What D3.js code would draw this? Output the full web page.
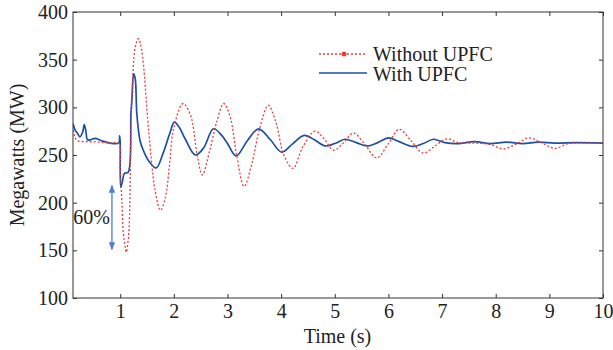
<!DOCTYPE html>
<html>
<head>
<meta charset="utf-8">
<script src="https://cdn.jsdelivr.net/npm/d3@7"></script>
<style>
  body { margin: 0; background: #fff; }
  #chart-container { width: 613px; height: 350px; }
  text { font-family: "Liberation Serif", "Times New Roman", serif; fill: #222; }
</style>
</head>
<body>
<div id="chart-container"></div>
<script>
// Time samples (s) and power (MW)
const timeWithout = [0.12, 0.16, 0.2, 0.4, 0.6, 0.8, 0.97, 1.0, 1.03, 1.06, 1.09, 1.11, 1.155, 1.2, 1.22, 1.28, 1.34, 1.40, 1.53, 1.65, 1.75, 1.84, 1.92, 1.99, 2.17, 2.31, 2.43, 2.53, 2.67, 2.8, 2.93, 3.05, 3.17, 3.31, 3.45, 3.6, 3.76, 3.9, 4.05, 4.22, 4.4, 4.63, 4.8, 4.98, 5.15, 5.35, 5.55, 5.78, 6.0, 6.2, 6.42, 6.65, 6.88, 7.09, 7.3, 7.6, 7.9, 8.14, 8.4, 8.61, 8.85, 9.1, 9.35, 9.6, 10];
const mwWithout = [276, 268, 265, 264, 263.5, 262.5, 262, 236, 202, 167, 155, 148, 164, 276, 310, 363, 372, 360, 276, 213, 192, 205, 240, 276, 304, 292, 252, 229, 255, 285, 304, 290, 250, 217, 240, 278, 302, 285, 250, 236, 258, 275, 267, 255, 262, 273, 262, 247, 262, 277, 265, 252, 260, 267, 263, 262.5, 261, 256.5, 262, 268, 263, 257, 262, 262.5, 262.5];

const timeWith = [0.12, 0.16, 0.2, 0.25, 0.3, 0.33, 0.36, 0.39, 0.45, 0.53, 0.65, 0.81, 0.97, 0.99, 1.0, 1.01, 1.04, 1.07, 1.09, 1.15, 1.2, 1.22, 1.25, 1.28, 1.31, 1.37, 1.43, 1.53, 1.67, 1.8, 1.92, 2.01, 2.1, 2.21, 2.4, 2.55, 2.74, 2.9, 3.0, 3.16, 3.37, 3.58, 3.8, 4.01, 4.22, 4.43, 4.62, 4.82, 5.0, 5.19, 5.4, 5.6, 5.8, 6.0, 6.2, 6.45, 6.65, 6.84, 7.05, 7.3, 7.6, 7.9, 8.2, 8.5, 8.8, 9.1, 9.5, 10];
const mwWith = [283, 276, 273, 269, 274, 282, 275, 266, 266, 267.5, 265, 262.5, 262.5, 270, 262, 216, 222, 230, 231, 232, 293, 310, 335, 330, 293, 265, 255, 244, 236.5, 252, 272, 284.5, 279, 267, 250, 257, 277.5, 270, 262, 249, 265, 277.5, 266, 253, 262, 270.5, 266, 259.5, 262, 266.5, 263, 259.5, 263, 268, 264, 259, 262, 266.5, 263, 262, 264, 262, 263.5, 262, 263.5, 262.5, 263, 262.5];

const xTicks = [1, 2, 3, 4, 5, 6, 7, 8, 9, 10];
const yTicks = [100, 150, 200, 250, 300, 350, 400];
const seriesNames = ["Without UPFC", "With UPFC"];

// annotation: 60% drop marker (time, MW)
const arrowTime = 0.846;
const arrowRange = [218, 151];

const width = 613, height = 350;
const margin = { top: 12, right: 10, bottom: 52, left: 73 };
const innerW = width - margin.left - margin.right;
const innerH = height - margin.top - margin.bottom;

const svg = d3.select("#chart-container").append("svg")
  .attr("width", width).attr("height", height);

const defs = svg.append("defs");
const clip = defs.append("clipPath").attr("id", "plot-clip");
clip.append("rect").attr("width", innerW).attr("height", innerH);

defs.append("marker")
  .attr("id", "arrow-head")
  .attr("viewBox", "0 0 10 10")
  .attr("refX", 9).attr("refY", 5)
  .attr("markerWidth", 8).attr("markerHeight", 8)
  .attr("markerUnits", "userSpaceOnUse")
  .attr("orient", "auto")
  .append("path")
  .attr("d", "M0,1 L10,5 L0,9 Z")
  .attr("fill", "#4f7fc9");

const g = svg.append("g").attr("transform", `translate(${margin.left},${margin.top})`);

const x = d3.scaleLinear().domain([0.12, 10]).range([0, innerW]);
const y = d3.scaleLinear().domain([100, 400]).range([innerH, 0]);

// axes, ticks pointing inward
const styleAxis = (sel) => {
  sel.select(".domain").remove();
  sel.selectAll(".tick line").attr("stroke", "#333");
  sel.selectAll("text").style("font-size", "20px").style("fill", "#222")
    .style("font-family", "'Liberation Serif', serif");
};

g.append("g").attr("transform", `translate(0,${innerH})`)
  .call(d3.axisBottom(x).tickValues(xTicks).tickSize(-4).tickPadding(6).tickFormat(d3.format("d")))
  .call(styleAxis);
g.append("g")
  .call(d3.axisTop(x).tickValues(xTicks).tickSize(-4).tickFormat(""))
  .call(styleAxis);
g.append("g")
  .call(d3.axisLeft(y).tickValues(yTicks).tickSize(-4).tickPadding(5).tickFormat(d3.format("d")))
  .call(styleAxis);
g.append("g").attr("transform", `translate(${innerW},0)`)
  .call(d3.axisRight(y).tickValues(yTicks).tickSize(-4).tickFormat(""))
  .call(styleAxis);

const line = d3.line()
  .x((d) => x(d[0]))
  .y((d) => y(d[1]))
  .curve(d3.curveCatmullRom.alpha(0.5));

const plot = g.append("g").attr("clip-path", "url(#plot-clip)");

plot.append("path")
  .datum(timeWith.map((t, i) => [t, mwWith[i]]))
  .attr("fill", "none")
  .attr("stroke", "#1d4fa3")
  .attr("stroke-width", 1.7)
  .attr("d", line);

plot.append("path")
  .datum(timeWithout.map((t, i) => [t, mwWithout[i]]))
  .attr("fill", "none")
  .attr("stroke", "#f03a3a")
  .attr("stroke-width", 1.3)
  .attr("stroke-dasharray", "2,2")
  .attr("d", line);

// frame
g.append("rect")
  .attr("width", innerW).attr("height", innerH)
  .attr("fill", "none").attr("stroke", "#333").attr("stroke-width", 1);

// 60% annotation
const arrowMid = y(d3.mean(arrowRange));
arrowRange.forEach((v) => {
  g.append("line")
    .attr("x1", x(arrowTime)).attr("x2", x(arrowTime))
    .attr("y1", arrowMid).attr("y2", y(v))
    .attr("stroke", "#4f7fc9").attr("stroke-width", 1.3)
    .attr("marker-end", "url(#arrow-head)");
});
g.append("text")
  .attr("x", x(arrowTime) - 2).attr("y", arrowMid + 7)
  .attr("text-anchor", "end")
  .style("font-size", "20px")
  .text("60%");

// legend
const legend = g.append("g").attr("transform", `translate(${319 - margin.left},${54 - margin.top})`);
legend.append("line")
  .attr("x1", 0).attr("x2", 48).attr("y1", 0).attr("y2", 0)
  .attr("stroke", "#f03a3a").attr("stroke-width", 1.3).attr("stroke-dasharray", "2,2");
legend.append("circle").attr("cx", 25).attr("cy", 0).attr("r", 2.5).attr("fill", "#f03a3a");
legend.append("text").attr("x", 54).attr("y", 7).style("font-size", "20px").text(seriesNames[0]);
legend.append("line")
  .attr("x1", 0).attr("x2", 48).attr("y1", 19).attr("y2", 19)
  .attr("stroke", "#1d4fa3").attr("stroke-width", 1.7);
legend.append("text").attr("x", 54).attr("y", 27).style("font-size", "20px").text(seriesNames[1]);

// axis titles
svg.append("text")
  .attr("x", margin.left + x(5.05)).attr("y", 343)
  .attr("text-anchor", "middle")
  .style("font-size", "20px")
  .text("Time (s)");
svg.append("text")
  .attr("transform", `translate(24,${margin.top + y(250)}) rotate(-90)`)
  .attr("text-anchor", "middle")
  .style("font-size", "20px")
  .text("Megawatts (MW)");
</script>
</body>
</html>
